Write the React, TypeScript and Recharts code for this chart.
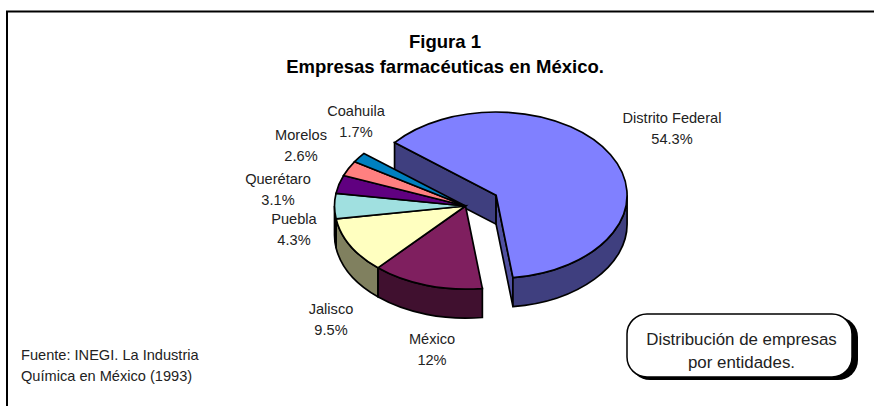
import React from "react";
import { PieChart, Pie, Cell } from "recharts";

const entidades = ["Distrito Federal", "México", "Jalisco", "Puebla", "Querétaro", "Morelos", "Coahuila"];
const porcentajes = [54.3, 12, 9.5, 4.3, 3.1, 2.6, 1.7];
const etiquetas = ["54.3%", "12%", "9.5%", "4.3%", "3.1%", "2.6%", "1.7%"];
const colores = ["#8080ff", "#7f1f5f", "#ffffc0", "#a0e0e0", "#600080", "#ff8080", "#0080c0"];
const paredes = ["#3f3f7f", "#40102f", "#80805f", "#507070", "#300040", "#804040", "#004060"];

const data = entidades.map((name, i) => ({ name, value: porcentajes[i] }));

// where Excel dropped each label, by hand
const labelPos = [
  [672, 118],
  [432, 339],
  [331, 309],
  [294, 219],
  [278, 179],
  [301, 135],
  [356, 111],
];

const FONT = "'Liberation Sans', Arial, sans-serif";
const TILT = 0.635;
const DEPTH = 29;
const EXPLODE = 35;
const RAD = Math.PI / 180;
const LINE = 1.7;

// tilted slice with side walls, angles come from the Pie
const Slice3D = (props: any) => {
  const { cx, cy, outerRadius: r, startAngle, endAngle, fill, index } = props;
  const off = index === 0 ? EXPLODE : 0;
  const mid = (startAngle + endAngle) / 2;
  const ox = cx + off * Math.cos(mid * RAD);
  const oy = cy - off * TILT * Math.sin(mid * RAD);
  const pt = (a: number, dy = 0) => [
    ox + r * Math.cos(a * RAD),
    oy - r * TILT * Math.sin(a * RAD) + dy,
  ];
  const hi = Math.max(startAngle, endAngle);
  const lo = Math.min(startAngle, endAngle);
  const wall = paredes[index];
  const rx = r;
  const ry = r * TILT;
  // outer wall only where the rim faces us (lower half of the ellipse)
  const a = Math.min(hi, 0);
  const b = Math.max(lo, -180);
  let rim: React.ReactNode = null;
  if (a > b) {
    const s1 = pt(a);
    const e1 = pt(b);
    const e2 = pt(b, DEPTH);
    const s2 = pt(a, DEPTH);
    rim = (
      <path
        d={`M ${e1[0]} ${e1[1]} L ${e2[0]} ${e2[1]} A ${rx} ${ry} 0 0 0 ${s2[0]} ${s2[1]} L ${s1[0]} ${s1[1]} A ${rx} ${ry} 0 0 1 ${e1[0]} ${e1[1]} Z`}
        fill={wall}
        stroke="#000"
        strokeWidth={LINE}
      />
    );
  }
  const s = pt(hi);
  const e = pt(lo);
  const large = hi - lo > 180 ? 1 : 0;
  const top = `M ${ox} ${oy} L ${s[0]} ${s[1]} A ${rx} ${ry} 0 ${large} 1 ${e[0]} ${e[1]} Z`;
  const radial = (p: number[], color: string) => (
    <path
      d={`M ${ox} ${oy} L ${p[0]} ${p[1]} L ${p[0]} ${p[1] + DEPTH} L ${ox} ${oy + DEPTH} Z`}
      fill={color}
      stroke="#000"
      strokeWidth={LINE}
    />
  );
  return (
    <g>
      {off > 0 && radial(s, wall)}
      {off > 0 && radial(e, "#5050a0")}
      {rim}
      <path d={top} fill={fill} stroke="#000" strokeWidth={LINE} />
    </g>
  );
};

const renderLabel = (props: any) => {
  const { index } = props;
  const [x, y] = labelPos[index];
  return (
    <g key={index} fontFamily={FONT} fontSize={14.6} fill="#222" textAnchor="middle">
      <text x={x} y={y + 5}>{entidades[index]}</text>
      <text x={x} y={y + 25.5}>{etiquetas[index]}</text>
    </g>
  );
};

export default function App() {
  return (
    <div style={{ position: "absolute", left: 0, top: 0, width: 874, height: 406, background: "#fff" }}>
      <PieChart width={874} height={406} margin={{ top: 0, right: 0, bottom: 0, left: 0 }}>
        <path d="M 7 406 L 7 11.5 L 874 11.5" fill="none" stroke="#000" strokeWidth={2} />
        <g fontFamily={FONT} fontWeight="bold" fontSize={18.5} fill="#000" textAnchor="middle">
          <text x={445} y={48}>Figura 1</text>
          <text x={445} y={73}>Empresas farmacéuticas en México.</text>
        </g>
        <Pie
          data={data}
          dataKey="value"
          nameKey="name"
          cx={465.5}
          cy={206}
          outerRadius={131}
          startAngle={140.8}
          endAngle={-219.2}
          paddingAngle={0}
          shape={Slice3D}
          label={renderLabel}
          labelLine={false}
          isAnimationActive={false}
        >
          {data.map((d, i) => (
            <Cell key={d.name} fill={colores[i]} />
          ))}
        </Pie>
        <g fontFamily={FONT} fontSize={14.6} fill="#222">
          <text x={21} y={360}>Fuente: INEGI. La Industria</text>
          <text x={21} y={381}>Química en México (1993)</text>
        </g>
        <rect x={630} y={317} width={228} height={63} rx={20} fill="#000" />
        <rect x={627} y={314} width={225} height={63} rx={20} fill="#fff" stroke="#000" strokeWidth={1.5} />
        <g fontFamily={FONT} fontSize={16.9} fill="#222" textAnchor="middle">
          <text x={741.5} y={345}>Distribución de empresas</text>
          <text x={741.5} y={368}>por entidades.</text>
        </g>
      </PieChart>
    </div>
  );
}
